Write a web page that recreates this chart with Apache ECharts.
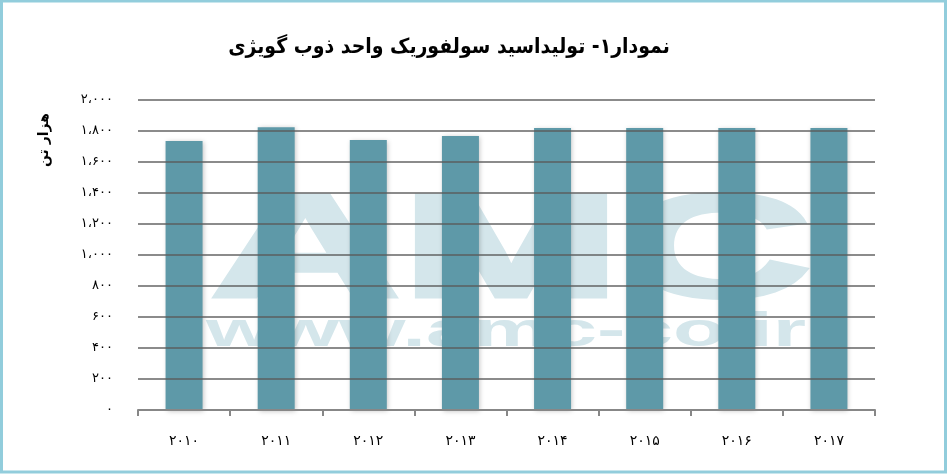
<!DOCTYPE html>
<html>
<head>
    <meta charset="UTF-8"/>
    <script type="text/javascript" src="https://cdn.jsdelivr.net/npm/echarts@6/dist/echarts.min.js"></script>
    <title>chart</title>
    <style>
        html, body {margin: 0; padding: 0; background: #fff;}
        #main {width: 947px; height: 474px;}
    </style>
</head>
<body>
<div id="main"></div>
<script>
    // داده ها
    var years = ['2010', '2011', '2012', '2013', '2014', '2015', '2016', '2017'];
    var production = [1735, 1825, 1742, 1767, 1820, 1820, 1820, 1820];
    var titleText = 'نمودار۱- تولیداسید سولفوریک واحد ذوب گویژی';
    var unitText = 'هزار تن';

    var faDigits = '۰۱۲۳۴۵۶۷۸۹';
    function toFa(str) {
        return String(str).replace(/[0-9]/g, function (d) { return faDigits[+d]; });
    }
    function faNumber(v) {
        var s = String(v);
        if (v >= 1000) {
            s = s.slice(0, s.length - 3) + '،' + s.slice(s.length - 3);
        }
        return toFa(s);
    }

    var wmColor = '#D4E6EB';

    var chart = echarts.init(document.getElementById('main'));
    var option = {
        animation: false,
        grid: {left: 138, right: 72, top: 100, bottom: 64},
        xAxis: {
            type: 'category',
            data: years,
            axisLine: {lineStyle: {color: '#878787', width: 2}},
            axisTick: {show: true, length: 6, lineStyle: {color: '#878787', width: 2}},
            axisLabel: {
                color: '#000', fontSize: 14, margin: 24,
                fontFamily: 'DejaVu Sans',
                formatter: function (v) { return toFa(v); }
            }
        },
        yAxis: {
            type: 'value',
            min: 0, max: 2000, interval: 200,
            axisLine: {show: false},
            axisTick: {show: false},
            splitLine: {lineStyle: {color: 'rgba(90,90,90,0.7)', width: 2}},
            axisLabel: {
                color: '#000', fontSize: 13, margin: 25,
                fontFamily: 'DejaVu Sans',
                formatter: function (v) { return faNumber(v); }
            }
        },
        series: [{
            type: 'bar',
            z: -1,
            data: production,
            barWidth: 37,
            itemStyle: {
                color: '#5E99A8',
                shadowBlur: 5,
                shadowColor: 'rgba(0,0,0,0.25)',
                shadowOffsetX: 1,
                shadowOffsetY: 1
            }
        }],
        graphic: [
            {
                type: 'rect', z: 20, silent: true,
                shape: {x: 1.5, y: 1, width: 944, height: 471},
                style: {fill: 'none', stroke: '#92CDDC', lineWidth: 3}
            },
            {
                type: 'text', z: 20, x: 449, y: 48,
                style: {
                    text: titleText, fill: '#000',
                    font: 'bold 21px "DejaVu Sans Condensed"',
                    textAlign: 'center', textVerticalAlign: 'middle'
                }
            },
            {
                type: 'text', z: 20, x: 44, y: 140, rotation: Math.PI / 2,
                style: {
                    text: unitText, fill: '#000',
                    font: 'bold 14px "DejaVu Sans"',
                    textAlign: 'center', textVerticalAlign: 'middle'
                }
            },
            // واترمارک زیر ستون ها
            {
                type: 'text', z: -5, silent: true, x: 511, y: 256, scaleX: 1.8,
                style: {
                    text: 'AMC', fill: wmColor,
                    font: 'bold 147px "Liberation Sans"',
                    textAlign: 'center', textVerticalAlign: 'middle',
                    stroke: wmColor, lineWidth: 4
                }
            },
            {
                type: 'text', z: -5, silent: true, x: 506, y: 333, scaleX: 1.78,
                style: {
                    text: 'www.amc-co.ir', fill: wmColor,
                    font: 'bold 48px "Liberation Sans"',
                    textAlign: 'center', textVerticalAlign: 'middle'
                }
            }
        ]
    };
    chart.setOption(option);
</script>
</body>
</html>
